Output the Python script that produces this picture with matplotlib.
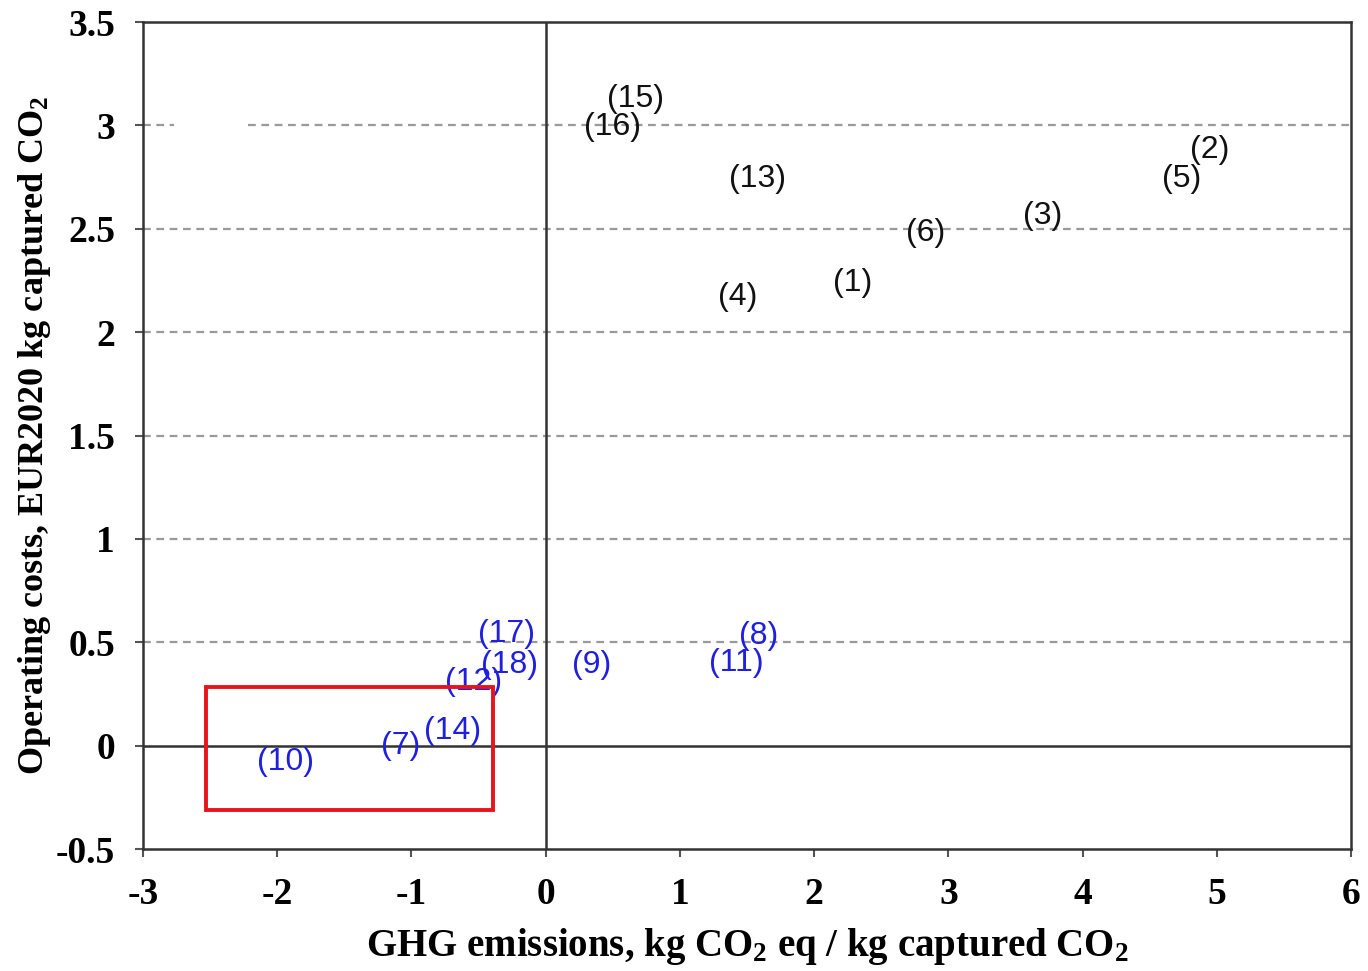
import matplotlib
matplotlib.use("Agg")
import matplotlib.pyplot as plt
from matplotlib.patches import Rectangle

# label positions (GHG emissions, operating costs)
black_ids = ["(1)", "(2)", "(3)", "(4)", "(5)", "(6)", "(13)", "(15)", "(16)"]
black_x = [2.29, 4.95, 3.70, 1.43, 4.74, 2.83, 1.58, 0.67, 0.50]
black_y = [2.24, 2.88, 2.56, 2.17, 2.74, 2.48, 2.74, 3.13, 2.99]

blue_ids = ["(7)", "(8)", "(9)", "(10)", "(11)", "(12)", "(14)", "(17)", "(18)"]
blue_x = [-1.08, 1.59, 0.34, -1.94, 1.42, -0.54, -0.69, -0.29, -0.27]
blue_y = [0.00, 0.53, 0.39, -0.08, 0.40, 0.31, 0.07, 0.54, 0.39]

# highlighted region (x0, y0, x1, y1)
box = (-2.53, -0.31, -0.39, 0.285)

x_ticks = [-3, -2, -1, 0, 1, 2, 3, 4, 5, 6]
y_ticks = [-0.5, 0, 0.5, 1, 1.5, 2, 2.5, 3, 3.5]
y_tick_labels = ["-0.5", "0", "0.5", "1", "1.5", "2", "2.5", "3", "3.5"]
grid_y = [0.5, 1, 1.5, 2, 2.5]

plt.rcParams["mathtext.fontset"] = "custom"
plt.rcParams["mathtext.rm"] = "Liberation Serif:bold"
plt.rcParams["mathtext.bf"] = "Liberation Serif:bold"
plt.rcParams["mathtext.default"] = "bf"

serif = {"family": "Liberation Serif", "weight": "bold"}
dash = dict(color="#9a9a9a", lw=1.6, ls=(0, (3.5, 2.5)), zorder=1)

fig = plt.figure(figsize=(13.68, 9.71), dpi=100)
ax = fig.add_axes([0.1045, 0.1256, 0.8831, 0.8517])
ax.set_xlim(-3, 6)
ax.set_ylim(-0.5, 3.5)

for v in grid_y:
    ax.axhline(v, **dash)
# the 3.0 gridline has a short gap near the left edge
ax.axhline(3, xmin=0, xmax=0.026, **dash)
ax.axhline(3, xmin=0.087, xmax=1, **dash)

ax.axhline(0, color="#333333", lw=1.8, zorder=2)
ax.axvline(0, color="#333333", lw=1.8, zorder=2)

for s in ax.spines.values():
    s.set_color("#333333")
    s.set_linewidth(1.8)

for lab, x, y in zip(black_ids, black_x, black_y):
    ax.text(x, y, lab, ha="center", va="center", fontsize=23,
            family="Liberation Sans", color="#111111", zorder=3)
for lab, x, y in zip(blue_ids, blue_x, blue_y):
    ax.text(x, y, lab, ha="center", va="center", fontsize=23,
            family="Liberation Sans", color="#1f1fe0", zorder=3)

ax.add_patch(Rectangle((box[0], box[1]), box[2] - box[0], box[3] - box[1],
                       fill=False, edgecolor="#e8141b", lw=2.8, zorder=4))

ax.set_xticks(x_ticks)
ax.set_xticklabels([str(t) for t in x_ticks], fontdict=serif, fontsize=27)
ax.set_yticks(y_ticks)
ax.set_yticklabels(y_tick_labels, fontdict=serif, fontsize=27)
ax.tick_params(axis="x", direction="out", length=6, width=1.5, color="#555555", pad=14)
ax.tick_params(axis="y", direction="out", length=6, width=1.5, color="#555555", pad=14)

ax.set_xlabel("GHG emissions, kg CO$_2$ eq / kg captured CO$_2$",
              fontdict=serif, fontsize=28, labelpad=10)
ax.set_ylabel("Operating costs, EUR2020 kg captured CO$_2$",
              fontdict=serif, fontsize=26, labelpad=2)

fig.savefig("out.png", dpi=100)
